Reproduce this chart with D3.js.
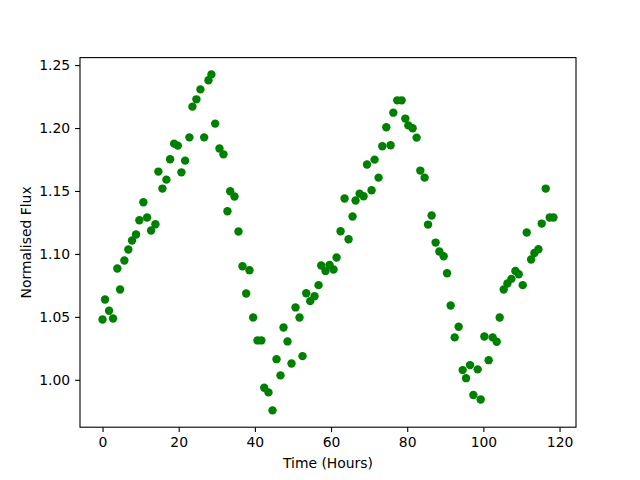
<!DOCTYPE html>
<html>
<head>
<meta charset="UTF-8">
<script src="https://cdn.jsdelivr.net/npm/d3@7"></script>
<style>
  body { margin: 0; background: #fff; }
  text { font-family: "DejaVu Sans", sans-serif; }
</style>
</head>
<body>
<script>
  // time (hours) and normalised flux
  const hours = [0.00, 0.66, 1.71, 2.76, 3.89, 4.60, 5.73, 6.78, 7.75, 8.80,
    9.67, 10.72, 11.70, 12.75, 13.88, 14.66, 15.72, 16.77, 17.74, 18.79,
    19.76, 20.71, 21.68, 22.81, 23.60, 24.65, 25.70, 26.68, 27.81, 28.59,
    29.57, 30.70, 31.75, 32.80, 33.51, 34.64, 35.69, 36.74, 37.71, 38.58,
    39.55, 40.68, 41.70, 42.45, 43.57, 44.63, 45.68, 46.73, 47.52, 48.57,
    49.62, 50.67, 51.72, 52.51, 53.48, 54.53, 55.66, 56.72, 57.42, 58.55,
    59.61, 60.66, 61.45, 62.50, 63.55, 64.60, 65.65, 66.44, 67.49, 68.54,
    69.44, 70.64, 71.43, 72.48, 73.46, 74.51, 75.64, 76.35, 77.40, 78.53,
    79.50, 80.29, 81.42, 82.47, 83.44, 84.57, 85.47, 86.41, 87.46, 88.44,
    89.57, 90.46, 91.41, 92.46, 93.51, 94.56, 95.45, 96.50, 97.37, 98.50,
    99.29, 100.26, 101.39, 102.44, 103.50, 104.28, 105.34, 106.31, 107.36, 108.41,
    109.28, 110.33, 111.38, 112.54, 113.40, 114.45, 115.32, 116.37, 117.42, 118.40];
  const flux = [1.0479, 1.0638, 1.0548, 1.0487, 1.0884, 1.0717, 1.0948, 1.1035, 1.1106, 1.1154,
    1.1267, 1.1410, 1.1289, 1.1186, 1.1236, 1.1654, 1.1519, 1.1590, 1.1752, 1.1876,
    1.1860, 1.1648, 1.1741, 1.1926, 1.2170, 1.2228, 1.2307, 1.1926, 1.2379, 1.2426,
    1.2035, 1.1837, 1.1791, 1.1339, 1.1498, 1.1456, 1.1178, 1.0902, 1.0686, 1.0871,
    1.0495, 1.0313, 1.0313, 0.9937, 0.9900, 0.9757, 1.0164, 1.0035, 1.0416, 1.0305,
    1.0130, 1.0575, 1.0495, 1.0188, 1.0688, 1.0625, 1.0664, 1.0752, 1.0908, 1.0865,
    1.0913, 1.0876, 1.0971, 1.1180, 1.1440, 1.1117, 1.1297, 1.1424, 1.1479, 1.1458,
    1.1710, 1.1506, 1.1749, 1.1606, 1.1855, 1.2006, 1.1863, 1.2122, 1.2220, 1.2220,
    1.2075, 1.2021, 1.1998, 1.1924, 1.1662, 1.1606, 1.1233, 1.1305, 1.1090, 1.1019,
    1.0982, 1.0847, 1.0590, 1.0337, 1.0421, 1.0077, 1.0013, 1.0117, 0.9879, 1.0083,
    0.9844, 1.0344, 1.0156, 1.0337, 1.0302, 1.0495, 1.0717, 1.0765, 1.0802, 1.0865,
    1.0839, 1.0752, 1.1170, 1.0956, 1.1008, 1.1037, 1.1241, 1.1519, 1.1289, 1.1289];
  const xTicks = [0, 20, 40, 60, 80, 100, 120];
  const yTicks = [1.00, 1.05, 1.10, 1.15, 1.20, 1.25];

  const width = 640, height = 480;
  const margin = {top: 57.6, right: 64, bottom: 52.8, left: 80};

  const svg = d3.select('body').append('svg').attr('width', width).attr('height', height);

  // matplotlib style 5% padding round the data
  const xPad = (d3.max(hours) - d3.min(hours)) * 0.05;
  const yPad = (d3.max(flux) - d3.min(flux)) * 0.05;
  const x = d3.scaleLinear()
    .domain([d3.min(hours) - xPad, d3.max(hours) + xPad])
    .range([margin.left, width - margin.right]);
  const y = d3.scaleLinear()
    .domain([d3.min(flux) - yPad, d3.max(flux) + yPad])
    .range([height - margin.bottom, margin.top]);

  svg.append('g')
    .selectAll('circle')
    .data(hours)
    .join('circle')
    .attr('cx', d => x(d))
    .attr('cy', (d, i) => y(flux[i]))
    .attr('r', 4.2)
    .attr('fill', '#008000');

  const xAxis = g => g
    .attr('transform', `translate(0,${height - margin.bottom})`)
    .call(d3.axisBottom(x).tickValues(xTicks).tickSize(4.9).tickPadding(4.9).tickFormat(d3.format('d')))
    .call(g => g.select('.domain').remove())
    .call(g => g.selectAll('text').style('font-size', '13.9px').attr('fill', '#000'))
    .call(g => g.selectAll('line').attr('stroke', '#000').attr('stroke-width', 1.1));

  const yAxis = g => g
    .attr('transform', `translate(${margin.left},0)`)
    .call(d3.axisLeft(y).tickValues(yTicks).tickSize(4.9).tickPadding(4.9).tickFormat(d3.format('.2f')))
    .call(g => g.select('.domain').remove())
    .call(g => g.selectAll('text').style('font-size', '13.9px').attr('fill', '#000'))
    .call(g => g.selectAll('line').attr('stroke', '#000').attr('stroke-width', 1.1));

  svg.append('g').call(xAxis);
  svg.append('g').call(yAxis);

  // frame
  svg.append('rect')
    .attr('x', margin.left).attr('y', margin.top)
    .attr('width', width - margin.left - margin.right)
    .attr('height', height - margin.top - margin.bottom)
    .attr('fill', 'none').attr('stroke', '#000').attr('stroke-width', 1.1);

  svg.append('text')
    .attr('x', (margin.left + width - margin.right) / 2)
    .attr('y', 468)
    .attr('text-anchor', 'middle')
    .style('font-size', '13.9px')
    .text('Time (Hours)');

  svg.append('text')
    .attr('transform', `translate(31,${(margin.top + height - margin.bottom) / 2}) rotate(-90)`)
    .attr('text-anchor', 'middle')
    .style('font-size', '13.9px')
    .text('Normalised Flux');
</script>
</body>
</html>
